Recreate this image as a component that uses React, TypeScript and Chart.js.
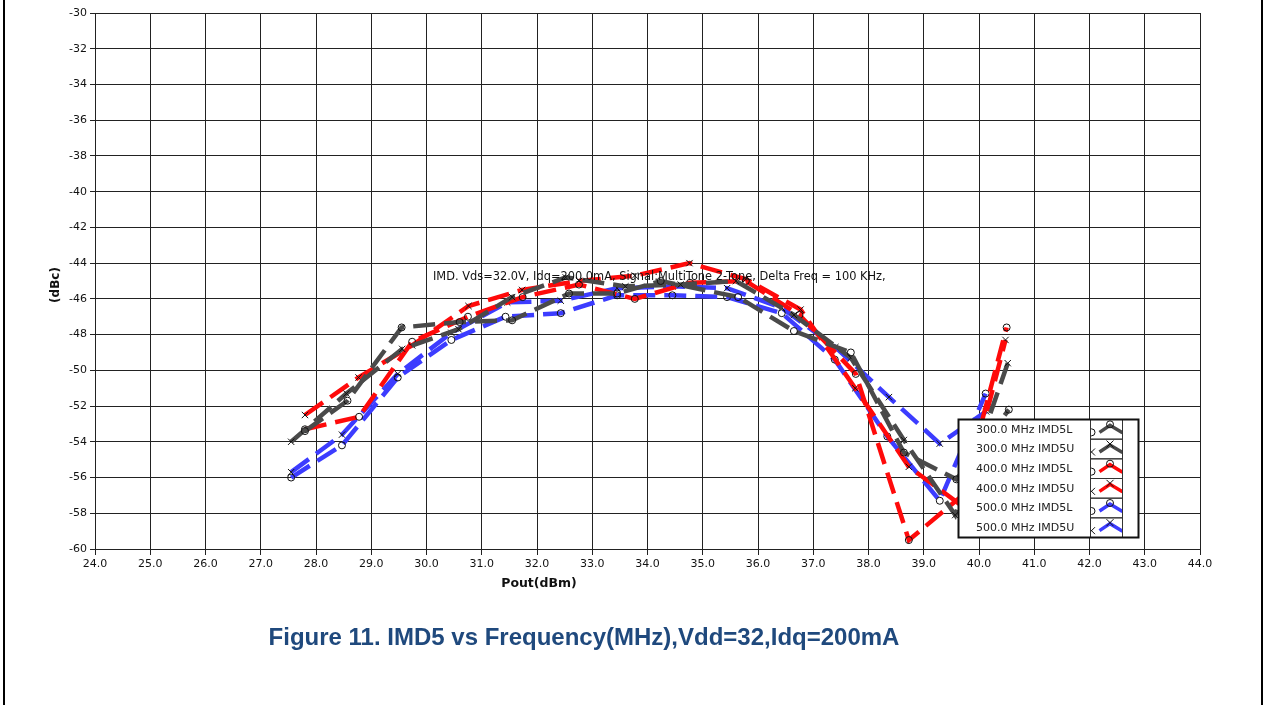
import React, { useEffect, useRef } from 'react';
import { Chart, registerables } from 'chart.js';

Chart.register(...registerables);

// ---- Data ----
const seriesNames = [
  '300.0 MHz IMD5L',
  '300.0 MHz IMD5U',
  '400.0 MHz IMD5L',
  '400.0 MHz IMD5U',
  '500.0 MHz IMD5L',
  '500.0 MHz IMD5U',
];

const pout300L = [27.8, 28.57, 29.55, 30.6, 31.55, 32.58, 33.45, 34.24, 35.64, 36.65, 37.68, 38.64, 39.59, 40.54];
const imd300L = [-53.4, -51.7, -47.6, -47.3, -47.2, -45.7, -45.7, -45.0, -45.9, -47.8, -49.0, -54.6, -56.1, -52.2];

const pout300U = [27.55, 28.55, 29.56, 30.58, 31.55, 32.52, 33.6, 34.6, 35.6, 36.65, 37.68, 38.64, 39.57, 40.52];
const imd300U = [-54.0, -51.3, -48.8, -47.7, -45.9, -44.8, -45.3, -45.2, -45.0, -46.9, -49.3, -53.9, -58.1, -49.6];

const pout400L = [27.8, 28.78, 29.74, 30.75, 31.74, 32.76, 33.77, 34.77, 35.78, 36.75, 37.77, 38.73, 39.7, 40.5];
const imd400L = [-53.3, -52.6, -48.4, -47.0, -45.9, -45.2, -46.0, -45.1, -45.0, -46.9, -50.2, -59.5, -57.0, -47.6];

const pout400U = [27.8, 28.77, 29.74, 30.76, 31.73, 32.76, 33.77, 34.76, 35.78, 36.77, 37.76, 38.73, 39.7, 40.48];
const imd400U = [-52.5, -50.4, -48.6, -46.4, -45.5, -45.0, -44.7, -44.0, -44.9, -46.6, -51.0, -55.4, -57.6, -48.3];

const pout500L = [27.55, 28.47, 29.48, 30.45, 31.43, 32.43, 33.45, 34.45, 35.44, 36.43, 37.39, 38.34, 39.29, 40.12];
const imd500L = [-56.0, -54.2, -50.4, -48.3, -47.0, -46.8, -45.8, -45.8, -45.9, -46.8, -49.4, -53.7, -57.3, -51.3];

const pout500U = [27.55, 28.47, 29.48, 30.45, 31.46, 32.43, 33.45, 34.45, 35.44, 36.43, 37.4, 38.37, 39.29, 40.13];
const imd500U = [-55.7, -53.6, -50.2, -47.9, -46.2, -46.1, -45.4, -45.3, -45.4, -46.5, -48.7, -51.5, -54.1, -52.3];

const xMin = 24, xMax = 44, xStep = 1;
const yMin = -60, yMax = -30, yStep = 2;

const chartTitle = 'IMD. Vds=32.0V, Idq=200.0mA, Signal:MultiTone 2-Tone, Delta Freq = 100 KHz,';
const xTitle = 'Pout(dBm)';
const yTitle = '(dBc)';
const caption = 'Figure 11. IMD5 vs Frequency(MHz),Vdd=32,Idq=200mA';

const GREY = '#4a4a4a';
const RED = '#ff0a0a';
const BLUE = '#3c3cff';

const seriesColors = [GREY, GREY, RED, RED, BLUE, BLUE];
const seriesMarkers = ['circle', 'crossRot', 'circle', 'crossRot', 'circle', 'crossRot'];
const seriesX = [pout300L, pout300U, pout400L, pout400U, pout500L, pout500U];
const seriesY = [imd300L, imd300U, imd400L, imd400U, imd500L, imd500U];

const FONT = '"DejaVu Sans", Verdana, sans-serif';

function drawMarker(ctx: CanvasRenderingContext2D, style: string, x: number, y: number) {
  ctx.save();
  ctx.strokeStyle = '#111';
  ctx.lineWidth = 1;
  ctx.beginPath();
  if (style === 'circle') {
    ctx.arc(x, y, 3.5, 0, Math.PI * 2);
  } else {
    const r = 3.5;
    ctx.moveTo(x - r, y - r);
    ctx.lineTo(x + r, y + r);
    ctx.moveTo(x + r, y - r);
    ctx.lineTo(x - r, y + r);
  }
  ctx.stroke();
  ctx.restore();
}

const decorPlugin = {
  id: 'decor',
  afterDatasetsDraw(chart: any) {
    const ctx = chart.ctx as CanvasRenderingContext2D;
    ctx.save();
    ctx.font = `11.4px ${FONT}`;
    ctx.fillStyle = '#111';
    ctx.textBaseline = 'alphabetic';
    ctx.textAlign = 'left';
    ctx.fillText(chartTitle, 433, 280);
    ctx.restore();
  },
  afterDraw(chart: any) {
    const ctx = chart.ctx as CanvasRenderingContext2D;
    ctx.save();

    // axis titles
    ctx.fillStyle = '#111';
    ctx.font = `bold 12.5px ${FONT}`;
    ctx.textAlign = 'center';
    ctx.textBaseline = 'middle';
    ctx.fillText(xTitle, 539, 584);
    ctx.save();
    ctx.translate(56, 285);
    ctx.rotate(-Math.PI / 2);
    ctx.font = `bold 12px ${FONT}`;
    ctx.fillText(yTitle, 0, 0);
    ctx.restore();

    // legend
    const lx0 = 958.5, ly0 = 419.5, lx1 = 1138.5, ly1 = 537.5;
    const cellX0 = 1090.5, cellX1 = 1122.5;
    const rowH = (ly1 - ly0) / seriesNames.length;
    ctx.fillStyle = '#ffffff';
    ctx.fillRect(lx0, ly0, lx1 - lx0, ly1 - ly0);
    ctx.font = `11px ${FONT}`;
    ctx.textAlign = 'left';
    ctx.textBaseline = 'middle';
    for (let i = 0; i < seriesNames.length; i++) {
      const top = ly0 + rowH * i;
      const cy = top + rowH / 2;
      ctx.fillStyle = '#222';
      ctx.fillText(seriesNames[i], 976, cy + 0.5);
      // sample cell
      ctx.save();
      ctx.beginPath();
      ctx.rect(cellX0, top, cellX1 - cellX0, rowH);
      ctx.clip();
      ctx.strokeStyle = seriesColors[i];
      ctx.lineWidth = 3.5;
      ctx.beginPath();
      ctx.moveTo(cellX0 + 9, cy + 3);
      ctx.lineTo(cellX0 + 19.5, cy - 4);
      ctx.lineTo(cellX0 + 32, cy + 3.5);
      ctx.stroke();
      drawMarker(ctx, seriesMarkers[i], cellX0 + 19.5, cy - 5);
      drawMarker(ctx, seriesMarkers[i], cellX0 + 1, cy + 3);
      ctx.restore();
      ctx.strokeStyle = '#333';
      ctx.lineWidth = 1;
      ctx.strokeRect(cellX0, top, cellX1 - cellX0, rowH);
    }
    ctx.strokeStyle = '#111';
    ctx.lineWidth = 2;
    ctx.strokeRect(lx0, ly0, lx1 - lx0, ly1 - ly0);

    // caption
    ctx.fillStyle = '#1f497d';
    ctx.font = 'bold 24px "Liberation Sans", Arial, sans-serif';
    ctx.textAlign = 'center';
    ctx.textBaseline = 'alphabetic';
    ctx.fillText(caption, 584, 645);

    // page frame lines
    ctx.fillStyle = '#000';
    ctx.fillRect(3, 0, 2, 705);
    ctx.fillRect(1261, 0, 2, 705);
    ctx.restore();
  },
};

export default function App() {
  const ref = useRef<HTMLCanvasElement | null>(null);
  useEffect(() => {
    if (!ref.current) return;
    const datasets = seriesNames.map((name, i) => ({
      label: name,
      data: seriesX[i].map((x, j) => ({ x, y: seriesY[i][j] })),
      borderColor: seriesColors[i],
      backgroundColor: seriesColors[i],
      borderWidth: 4.5,
      borderDash: [22, 9],
      borderCapStyle: 'butt' as const,
      tension: 0,
      fill: false,
      pointStyle: seriesMarkers[i],
      pointRadius: seriesMarkers[i] === 'circle' ? 3.5 : 4.5,
      pointBorderColor: '#111',
      pointBackgroundColor: 'rgba(255,255,255,0)',
      pointBorderWidth: 1,
    }));
    const chart = new Chart(ref.current, {
      type: 'line',
      data: { datasets },
      options: {
        animation: false,
        responsive: false,
        devicePixelRatio: 1,
        layout: { padding: { left: 0, right: 66, top: 13, bottom: 116 } },
        plugins: { legend: { display: false }, tooltip: { enabled: false }, title: { display: false } },
        scales: {
          x: {
            type: 'linear',
            min: xMin,
            max: xMax,
            ticks: {
              stepSize: xStep,
              autoSkip: false,
              maxRotation: 0,
              color: '#111',
              padding: 3,
              font: { family: FONT, size: 11 },
              callback: (v: any) => Number(v).toFixed(1),
            },
            grid: { color: '#222', lineWidth: 1, tickLength: 6, tickColor: '#222' },
            border: { color: '#222', width: 1 },
            afterFit: (s: any) => { s.height = 40; },
          },
          y: {
            type: 'linear',
            min: yMin,
            max: yMax,
            ticks: {
              stepSize: yStep,
              autoSkip: false,
              color: '#111',
              padding: 3,
              font: { family: FONT, size: 11 },
              callback: (v: any) => String(v),
            },
            grid: { color: '#222', lineWidth: 1, tickLength: 5, tickColor: '#222' },
            border: { color: '#222', width: 1 },
            afterFit: (s: any) => { s.width = 95; },
          },
        },
      },
      plugins: [decorPlugin],
    });
    return () => chart.destroy();
  }, []);
  return (
    <div style={{ position: 'absolute', left: 0, top: 0, width: 1266, height: 705, background: '#fff' }}>
      <canvas ref={ref} width={1266} height={705} style={{ width: 1266, height: 705, display: 'block' }} />
    </div>
  );
}
